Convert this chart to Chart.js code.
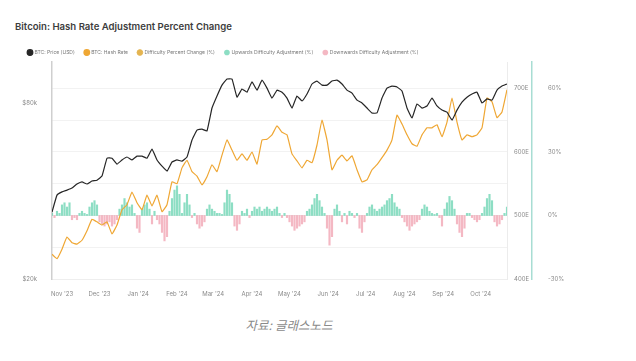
<!DOCTYPE html>
<html>
<head>
<meta charset="utf-8">
<script src="https://cdn.jsdelivr.net/npm/chart.js"></script>
<style>
    body { margin: 0; width: 636px; height: 361px; background: #fff; position: relative; overflow: hidden; font-family: Inter, sans-serif; }
    .chart-title { position: absolute; left: 15px; top: 21px; font-size: 9.6px; font-weight: 600; color: #3d3d3d; white-space: nowrap; }
    .chart-box { position: absolute; left: 0; top: 40px; width: 636px; height: 270px; }
    .chart-source { position: absolute; left: 0; width: 578px; top: 315px; text-align: center; font-family: "Noto Sans CJK KR", sans-serif; font-style: italic; font-size: 12.5px; color: #8a8a8a; }
</style>
</head>
<body>
<div class="chart-title">Bitcoin: Hash Rate Adjustment Percent Change</div>
<div class="chart-box"><canvas id="hashChart"></canvas></div>
<div class="chart-source">자료: 글래스노드</div>

<script>
    // month ticks (day 0 = 24 Oct 2023)
    const monthLabels = ["Nov '23", "Dec '23", "Jan '24", "Feb '24", "Mar '24", "Apr '24", "May '24", "Jun '24", "Jul '24", "Aug '24", "Sep '24", "Oct '24"];
    const monthDays = [8, 38, 69, 100, 129, 160, 190, 221, 251, 282, 313, 343];
    const lineStepDays = 4;
    const barStepDays = 2;

    // BTC price, $k (every 4 days)
    const btcPrice = [42.8, 48.6, 49.7, 50.3, 51.0, 52.4, 53.1, 52.4, 53.4, 53.7,
        55.1, 61.2, 61.2, 59.2, 60.6, 61.6, 60.6, 61.9, 61.9, 61.2,
        64.3, 60.6, 58.5, 56.8, 59.9, 60.6, 60.2, 61.6, 67.4, 70.8,
        71.1, 70.5, 78.3, 82.4, 86.1, 88.2, 88.2, 82.0, 84.8, 83.7,
        87.2, 84.4, 87.8, 85.1, 81.7, 84.4, 83.7, 81.7, 78.3, 82.4,
        80.7, 83.1, 86.5, 87.5, 86.1, 86.1, 87.5, 87.8, 86.5, 84.4,
        83.4, 81.0, 80.0, 78.3, 76.6, 76.6, 81.7, 85.1, 85.8, 85.5,
        84.1, 78.3, 74.9, 79.7, 78.3, 79.0, 81.7, 79.0, 77.6, 76.9,
        74.2, 77.6, 80.3, 82.0, 83.1, 83.7, 80.0, 81.4, 81.0, 84.4,
        85.8, 86.5];

    // hash rate, EH/s (every 4 days)
    const hashRate = [439, 432, 447, 466, 457, 455, 461, 476, 494, 490,
        485, 490, 471, 485, 509, 517, 537, 520, 509, 532,
        515, 532, 506, 517, 553, 550, 575, 587, 569, 562,
        548, 561, 580, 569, 595, 619, 603, 587, 597, 587,
        600, 581, 619, 620, 627, 641, 631, 627, 597, 586,
        575, 587, 583, 611, 650, 619, 572, 587, 595, 586,
        594, 572, 553, 556, 572, 580, 591, 603, 619, 658,
        644, 627, 613, 609, 627, 638, 638, 643, 624, 647,
        685, 647, 619, 627, 624, 627, 638, 685, 679, 654,
        663, 698];

    // difficulty adjustment %, (every 2 days)
    const diffChange = [1, -1, 2, 1, 5, 6, 4, 6, -2, -1,
        -2, 1, 2, 1, 0.5, 4, 6, 7, 5, -3,
        -4, -5, -4, -3, -5, -4, -2, 3, 5, 8,
        6, 4, 5, 1, -6, -8, 3, 5, 6, 3,
        -4, 2, -2, -4, -8, -12, -10, 2, 8, 12,
        14, 10, 1, 6, 10, 5, -1, 1, -4, -6,
        -5, -3, 3, 5, 3, 2, 1, 1, 0.5, 6,
        12, 10, 6, -5, -7, -4, 2, 1, 3, -1,
        2, 4, 3, 4, 2, 3, 4, 3, 2, 3,
        4, 1, -1, 1, -1, -3, -5, -7, -6, -5,
        -4, -3, 2, 3, 5, 8, 10, 7, 4, 1,
        -6, -14, -10, 3, 5, 2, -3, 1, -4, 2,
        1, -1, 1, -6, -8, -3, 1, 4, 5, 3,
        2, 3, 4, 5, 7, 8, 10, 6, 4, 3,
        -1, -3, -5, -7, -5, -4, -3, -2, 3, 5,
        4, 2, 1, 0.5, 1, -1, -5, 3, 6, 9,
        7, 3, -4, -8, -10, -6, 1, 1, -1, -2,
        -3, -2, 1, 4, 8, 10, 7, -3, -5, -4,
        -2, 1, 4];

    const priceTicks = [20, 80];
    const hashTicks = [400, 450, 500, 550, 600, 650, 700];
    const pctTicks = [-30, 0, 30, 60];

    const pricePoints = btcPrice.map((v, i) => ({x: i * lineStepDays, y: v}));
    const hashPoints = hashRate.map((v, i) => ({x: i * lineStepDays, y: v}));
    const upPoints = diffChange.map((v, i) => ({x: i * barStepDays, y: v > 0 ? v : null}));
    const downPoints = diffChange.map((v, i) => ({x: i * barStepDays, y: v < 0 ? v : null}));

    const tickFont = {family: 'Inter', size: 6};

    // fixed legend height so the plot starts where it does in the picture
    const legendHeight = {
        id: 'legendHeight',
        beforeInit(chart) {
            const fit = chart.legend.fit;
            chart.legend.fit = function () {
                fit.bind(chart.legend)();
                this.height = 22;
            };
        }
    };

    new Chart(document.getElementById('hashChart'), {
        type: 'line',
        data: {
            datasets: [
                {
                    label: 'BTC: Price (USD)',
                    data: pricePoints,
                    yAxisID: 'price',
                    borderColor: '#262626',
                    backgroundColor: '#262626',
                    borderWidth: 1.2,
                    pointRadius: 0,
                    tension: 0.1,
                    order: 0
                },
                {
                    label: 'BTC: Hash Rate',
                    data: hashPoints,
                    yAxisID: 'hash',
                    borderColor: '#efa734',
                    backgroundColor: '#efa734',
                    borderWidth: 1.2,
                    pointRadius: 0,
                    tension: 0.1,
                    order: 1
                },
                {
                    label: 'Difficulty Percent Change (%)',
                    data: [],
                    yAxisID: 'pct',
                    borderColor: '#e4b450',
                    backgroundColor: '#e4b450',
                    pointRadius: 0,
                    order: 1
                },
                {
                    type: 'bar',
                    label: 'Upwards Difficulty Adjustment (%)',
                    data: upPoints,
                    yAxisID: 'pct',
                    backgroundColor: 'rgba(80, 205, 165, 0.65)',
                    borderWidth: 0,
                    barThickness: 1.5,
                    grouped: false,
                    order: 2
                },
                {
                    type: 'bar',
                    label: 'Downwards Difficulty Adjustment (%)',
                    data: downPoints,
                    yAxisID: 'pct',
                    backgroundColor: 'rgba(235, 125, 145, 0.55)',
                    borderWidth: 0,
                    barThickness: 1.5,
                    grouped: false,
                    order: 2
                }
            ]
        },
        plugins: [legendHeight],
        options: {
            responsive: true,
            maintainAspectRatio: false,
            animation: false,
            layout: {padding: {left: 18, right: 0, top: 0, bottom: 0}},
            plugins: {
                legend: {
                    position: 'top',
                    align: 'start',
                    labels: {
                        usePointStyle: true,
                        pointStyle: 'circle',
                        boxWidth: 4,
                        boxHeight: 4,
                        padding: 10,
                        color: '#777',
                        font: {family: 'Inter', size: 5}
                    }
                },
                tooltip: {enabled: false}
            },
            scales: {
                x: {
                    type: 'linear',
                    min: 0,
                    max: 364,
                    offset: false,
                    afterBuildTicks: (axis) => { axis.ticks = monthDays.map((d) => ({value: d})); },
                    afterFit: (axis) => { axis.height = 31; },
                    ticks: {
                        autoSkip: false,
                        maxRotation: 0,
                        padding: 4,
                        color: '#8a8a8a',
                        font: tickFont,
                        callback: (v) => monthLabels[monthDays.indexOf(v)]
                    },
                    grid: {display: false},
                    border: {color: '#eeeeee'}
                },
                price: {
                    type: 'linear',
                    position: 'left',
                    min: 20,
                    max: 94,
                    afterBuildTicks: (axis) => { axis.ticks = priceTicks.map((v) => ({value: v})); },
                    afterFit: (axis) => { axis.width = 34; },
                    ticks: {
                        padding: 7,
                        color: '#8a8a8a',
                        font: tickFont,
                        callback: (v) => '$' + v + 'k'
                    },
                    grid: {display: false},
                    border: {color: '#cfcfcf', width: 1.5}
                },
                hash: {
                    type: 'linear',
                    position: 'right',
                    min: 400,
                    max: 741.7,
                    afterBuildTicks: (axis) => { axis.ticks = hashTicks.map((v) => ({value: v})); },
                    afterFit: (axis) => { axis.width = 25; },
                    ticks: {
                        padding: 7,
                        color: '#8a8a8a',
                        font: tickFont,
                        callback: (v) => (v % 100 === 0 ? v + 'E' : '')
                    },
                    grid: {color: '#f2f2f2', drawTicks: false},
                    border: {color: '#ececec', width: 1}
                },
                pct: {
                    type: 'linear',
                    position: 'right',
                    min: -30,
                    max: 72.5,
                    afterBuildTicks: (axis) => { axis.ticks = pctTicks.map((v) => ({value: v})); },
                    afterFit: (axis) => { axis.width = 104; },
                    ticks: {
                        padding: 8,
                        color: '#8a8a8a',
                        font: tickFont,
                        callback: (v) => v + '%'
                    },
                    grid: {display: false},
                    border: {color: '#a8ddd3', width: 1.5}
                }
            }
        }
    });
</script>
</body>
</html>
